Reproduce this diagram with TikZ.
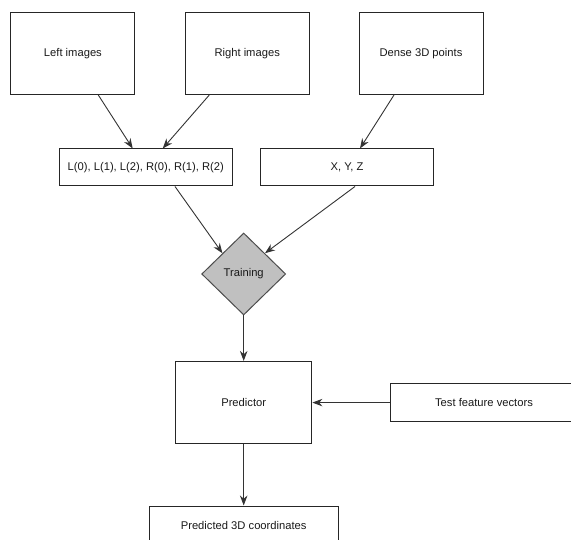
\documentclass[tikz,border=0pt]{standalone}
\usepackage{fontspec}
\setmainfont{Liberation Sans}
\usetikzlibrary{shapes.geometric, arrows.meta}
\definecolor{linegray}{HTML}{333333}
\definecolor{traingray}{HTML}{C0C0C0}
\tikzset{
>={Stealth[length=10pt,width=7.5pt]},
  stagebox/.style={
    rectangle,
    draw=black!85, line width=1pt,
    text=black!90,
    inner sep=0pt,
    font=\fontsize{11.2}{13}\selectfont},
  srcbox/.style={stagebox, minimum width=124pt, minimum height=82pt},
  vecbox/.style={stagebox, minimum width=173pt, minimum height=37pt},
  trainbox/.style={
    diamond,
    draw=black!70, line width=1pt,
    fill=traingray,
    text=black!90,
    inner sep=0pt,
    minimum width=84pt, minimum height=82pt,
    font=\fontsize{11.2}{13}\selectfont},
  line/.style={draw=linegray, line width=0.9pt, ->},
}
\begin{document}
\begin{tikzpicture}[x=1pt,y=-1pt]
\useasboundingbox (0,0) rectangle (571,540);
\clip (0,0) rectangle (571,540);
\foreach \name/\xpos/\txt in {left/72.9/Left images, right/247.2/Right images, dense/421/Dense 3D points}{
  \node[srcbox] (\name) at (\xpos,53.5) {\txt};
}
\node[vecbox] (feat) at (145.8,167.5) {L(0), L(1), L(2), R(0), R(1), R(2)};
\node[vecbox] (xyz) at (347,167.5) {X, Y, Z};
\node[trainbox] (train) at (243.7,274) {Training};
\node[stagebox, minimum width=136.4pt, minimum height=82.3pt] (pred) at (243.7,402.6) {Predictor};
\node[stagebox, minimum width=188pt, minimum height=37.7pt] (test) at (484,402.6) {Test feature vectors};
\node[stagebox, minimum width=189.4pt, minimum height=38pt] (out) at (243.7,525) {Predicted 3D coordinates};
\draw[line] ([xshift=25.4pt]left.south) -- ([xshift=-13.1pt]feat.north);
\draw[line] ([xshift=-37.9pt]right.south) -- ([xshift=16.9pt]feat.north);
\draw[line] ([xshift=-27pt]dense.south) -- ([xshift=13pt]xyz.north);
\draw[line] ([xshift=29.2pt]feat.south) -- (train.north west);
\draw[line] ([xshift=8pt]xyz.south) -- (train.north east);
\draw[line] (train.south) -- (pred.north);
\draw[line] (test.west) -- (pred.east);
\draw[line] (pred.south) -- (out.north);
\end{tikzpicture}
\end{document}
